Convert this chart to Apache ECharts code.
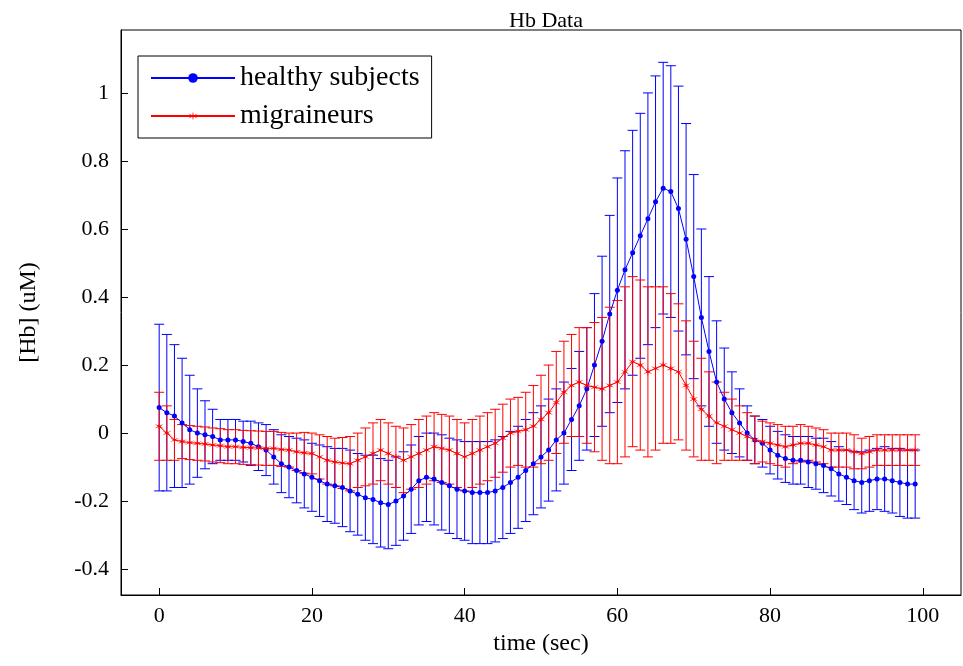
<!DOCTYPE html>
<html><head><meta charset="utf-8">
<script src="https://cdn.jsdelivr.net/npm/echarts@6/dist/echarts.min.js"></script>
<style>body{margin:0;background:#fff}#c{width:963px;height:666px}</style>
</head><body><div id="c"></div>
<script>
// time (sec)
const times = [];
for (let t = 0; t <= 99; t++) times.push(t);

const healthyMean = [0.075,0.06,0.05,0.03,0.01,0.0,-0.005,-0.01,-0.02,-0.02,
  -0.02,-0.025,-0.03,-0.04,-0.05,-0.07,-0.09,-0.1,-0.11,-0.12,
  -0.13,-0.14,-0.15,-0.155,-0.16,-0.17,-0.18,-0.19,-0.195,-0.205,
  -0.21,-0.2,-0.185,-0.165,-0.14,-0.13,-0.135,-0.145,-0.155,-0.165,
  -0.17,-0.175,-0.175,-0.175,-0.17,-0.16,-0.145,-0.13,-0.11,-0.09,
  -0.07,-0.05,-0.02,0.0,0.04,0.08,0.13,0.2,0.27,0.35,
  0.42,0.48,0.53,0.58,0.63,0.68,0.72,0.71,0.66,0.57,
  0.46,0.34,0.24,0.15,0.1,0.06,0.03,0.0,-0.02,-0.03,
  -0.05,-0.065,-0.075,-0.08,-0.08,-0.085,-0.09,-0.095,-0.105,-0.12,
  -0.13,-0.14,-0.145,-0.14,-0.135,-0.135,-0.14,-0.145,-0.15,-0.15];
const healthyErr = [0.245,0.23,0.21,0.19,0.16,0.13,0.1,0.08,0.06,0.06,
  0.06,0.06,0.065,0.07,0.075,0.08,0.085,0.09,0.095,0.1,
  0.1,0.105,0.11,0.11,0.115,0.12,0.12,0.125,0.13,0.13,
  0.13,0.13,0.13,0.13,0.13,0.13,0.135,0.14,0.14,0.145,
  0.145,0.15,0.15,0.15,0.15,0.15,0.15,0.15,0.15,0.15,
  0.15,0.15,0.15,0.15,0.15,0.16,0.18,0.21,0.25,0.29,
  0.33,0.35,0.36,0.36,0.37,0.37,0.37,0.37,0.36,0.34,
  0.3,0.26,0.22,0.18,0.15,0.12,0.1,0.08,0.07,0.07,
  0.07,0.07,0.07,0.07,0.07,0.075,0.075,0.08,0.08,0.08,
  0.08,0.085,0.09,0.09,0.09,0.095,0.095,0.1,0.1,0.1];
const migraineMean = [0.02,0.0,-0.02,-0.025,-0.028,-0.03,-0.032,-0.035,-0.037,-0.04,
  -0.04,-0.042,-0.043,-0.044,-0.045,-0.045,-0.048,-0.05,-0.055,-0.058,
  -0.06,-0.07,-0.08,-0.085,-0.088,-0.09,-0.08,-0.07,-0.06,-0.05,
  -0.06,-0.07,-0.08,-0.07,-0.06,-0.05,-0.04,-0.045,-0.05,-0.06,
  -0.07,-0.06,-0.05,-0.04,-0.03,-0.015,0.0,0.005,0.01,0.02,
  0.04,0.06,0.09,0.12,0.14,0.15,0.14,0.135,0.13,0.14,
  0.15,0.18,0.21,0.2,0.18,0.19,0.2,0.19,0.18,0.14,
  0.1,0.07,0.05,0.03,0.02,0.01,0.0,-0.01,-0.02,-0.025,
  -0.03,-0.035,-0.04,-0.035,-0.03,-0.03,-0.035,-0.04,-0.05,-0.05,
  -0.05,-0.055,-0.06,-0.055,-0.05,-0.05,-0.05,-0.05,-0.05,-0.05];
const migraineErr = [0.1,0.08,0.06,0.05,0.05,0.05,0.05,0.05,0.05,0.05,
  0.05,0.05,0.05,0.05,0.05,0.05,0.05,0.05,0.055,0.06,
  0.06,0.065,0.07,0.07,0.075,0.08,0.08,0.085,0.09,0.09,
  0.09,0.09,0.095,0.095,0.1,0.1,0.1,0.1,0.1,0.1,
  0.1,0.1,0.1,0.1,0.1,0.1,0.1,0.1,0.11,0.12,
  0.13,0.14,0.15,0.15,0.15,0.16,0.17,0.19,0.21,0.23,
  0.24,0.25,0.25,0.25,0.25,0.24,0.23,0.22,0.2,0.19,
  0.17,0.15,0.13,0.12,0.1,0.09,0.08,0.07,0.07,0.06,
  0.06,0.06,0.06,0.055,0.055,0.05,0.05,0.05,0.05,0.05,
  0.05,0.05,0.045,0.045,0.045,0.045,0.045,0.045,0.045,0.045];

const yTicks = [-0.4,-0.2,0,0.2,0.4,0.6,0.8,1];
const xTicks = [0,20,40,60,80,100];

function errData(mean, err) {
  return times.map((t, i) => [t, mean[i] - err[i], mean[i] + err[i]]);
}
function errSeries(name, mean, err, color) {
  return {
    type: 'custom', name: name, silent: true, z: 1,
    data: errData(mean, err),
    renderItem: function (params, api) {
      const x = api.value(0);
      const lo = api.coord([x, api.value(1)]);
      const hi = api.coord([x, api.value(2)]);
      const w = 5;
      const st = { stroke: color, lineWidth: 1, fill: null };
      return { type: 'group', children: [
        { type: 'line', shape: { x1: lo[0], y1: lo[1], x2: hi[0], y2: hi[1] }, style: st },
        { type: 'line', shape: { x1: lo[0] - w, y1: lo[1], x2: lo[0] + w, y2: lo[1] }, style: st },
        { type: 'line', shape: { x1: hi[0] - w, y1: hi[1], x2: hi[0] + w, y2: hi[1] }, style: st }
      ]};
    }
  };
}
const star = 'path://M5,0L5.6,4.2L9.8,2.4L6.4,5L9.8,7.6L5.6,5.8L5,10L4.4,5.8L0.2,7.6L3.6,5L0.2,2.4L4.4,4.2Z';
const font = '"Liberation Serif", "Times New Roman", serif';

const chart = echarts.init(document.getElementById('c'));
chart.setOption({
  animation: false,
  textStyle: { fontFamily: font },
  title: { text: 'Hb Data', left: 541, top: 5, textAlign: 'center',
    textStyle: { fontFamily: font, fontSize: 22, fontWeight: 'normal', color: '#000' } },
  grid: { left: 121, right: 2, top: 30, bottom: 71, show: true, borderColor: '#000', borderWidth: 1 },
  legend: {
    left: 138, top: 56, orient: 'vertical', itemGap: 10, itemWidth: 84, itemHeight: 12,
    backgroundColor: '#fff', borderColor: '#000', borderWidth: 1, padding: [8, 12, 8, 12],
    textStyle: { fontFamily: font, fontSize: 28, color: '#000' },
    data: ['healthy subjects', 'migraineurs']
  },
  xAxis: {
    type: 'value', min: -5, max: 105,
    name: 'time (sec)', nameLocation: 'middle', nameGap: 36,
    nameTextStyle: { fontFamily: font, fontSize: 24, color: '#000' },
    axisLine: { onZero: false, lineStyle: { color: '#000' } },
    axisTick: { inside: true, length: 7, customValues: xTicks, lineStyle: { color: '#000' } },
    axisLabel: { customValues: xTicks, fontFamily: font, fontSize: 22, color: '#000', margin: 10 },
    splitLine: { show: false }
  },
  yAxis: {
    type: 'value', min: -0.476, max: 1.185,
    name: '[Hb] (uM)', nameLocation: 'middle', nameGap: 80,
    nameTextStyle: { fontFamily: font, fontSize: 24, color: '#000' },
    axisLine: { show: true, onZero: false, lineStyle: { color: '#000' } },
    axisTick: { inside: true, length: 7, customValues: yTicks, lineStyle: { color: '#000' } },
    axisLabel: { customValues: yTicks, fontFamily: font, fontSize: 22, color: '#000', margin: 12 },
    splitLine: { show: false }
  },
  series: [
    errSeries('healthy err', healthyMean, healthyErr, '#0000ff'),
    errSeries('migraine err', migraineMean, migraineErr, '#ff0000'),
    { type: 'line', name: 'healthy subjects', z: 3,
      data: times.map((t, i) => [t, healthyMean[i]]),
      symbol: 'circle', symbolSize: 5,
      lineStyle: { color: '#0000ff', width: 1 }, itemStyle: { color: '#0000ff' } },
    { type: 'line', name: 'migraineurs', z: 4,
      data: times.map((t, i) => [t, migraineMean[i]]),
      symbol: star, symbolSize: 9,
      lineStyle: { color: '#ff0000', width: 1 }, itemStyle: { color: '#ff0000' } }
  ]
});
</script></body></html>
